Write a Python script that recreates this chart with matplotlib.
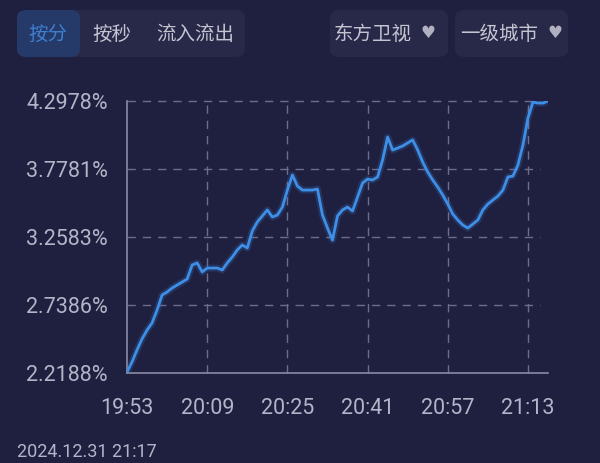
import matplotlib
matplotlib.use("Agg")
import matplotlib.pyplot as plt
from matplotlib.patches import FancyBboxPatch

plt.rcParams['font.family'] = ['Roboto', 'Noto Sans CJK SC', 'DejaVu Sans']

# ---- data ----
start_minute = 19 * 60 + 53
minutes = list(range(0, 85))
share = [2.226, 2.303, 2.395, 2.479, 2.547, 2.601, 2.700, 2.815, 2.838, 2.868,
         2.891, 2.914, 2.937, 3.044, 3.060, 2.991, 3.021, 3.021, 3.021, 3.006,
         3.060, 3.105, 3.159, 3.197, 3.174, 3.304, 3.373, 3.419, 3.465, 3.411,
         3.426, 3.487, 3.617, 3.732, 3.648, 3.617, 3.617, 3.617, 3.625, 3.426,
         3.327, 3.235, 3.419, 3.465, 3.487, 3.457, 3.564, 3.671, 3.701, 3.694,
         3.717, 3.847, 4.022, 3.923, 3.938, 3.954, 3.977, 4.000, 3.923, 3.831,
         3.755, 3.694, 3.640, 3.579, 3.510, 3.434, 3.388, 3.350, 3.327, 3.357,
         3.388, 3.465, 3.510, 3.541, 3.571, 3.617, 3.717, 3.724, 3.808, 3.961,
         4.168, 4.290, 4.282, 4.282, 4.298]
y_ticks = [2.2188, 2.7386, 3.2583, 3.7781, 4.2978]
x_tick_minutes = [0, 16, 32, 48, 64, 80]
x_tick_labels = ["19:53", "20:09", "20:25", "20:41", "20:57", "21:13"]
tabs = ["按分", "按秒", "流入流出"]
dropdowns = ["东方卫视", "一级城市"]
timestamp = "2024.12.31 21:17"

# ---- figure ----
W, H = 600, 463
BG = "#1f2040"
fig = plt.figure(figsize=(W / 100, H / 100), dpi=100, facecolor=BG)

def fx(px):
    return px / W

def fy(py):
    return 1 - py / H

ax = fig.add_axes([fx(127), fy(373), fx(548) - fx(127), (373 - 101) / H])
ax.set_facecolor(BG)

ax.plot(minutes, share, color="#3d8fe8", lw=5, alpha=0.18, solid_capstyle="round",
        solid_joinstyle="round", zorder=3)
ax.plot(minutes, share, color="#3d8fe8", lw=2.0, solid_joinstyle="round", zorder=4)

ax.set_xlim(0, 84)
ax.set_ylim(y_ticks[0], y_ticks[-1])
ax.set_yticks(y_ticks)
ax.set_yticklabels([f"{v:.4f}%" for v in y_ticks])
ax.set_xticks(x_tick_minutes)
ax.set_xticklabels(x_tick_labels)

grid_col = "#6c6c8e"
for v in y_ticks[1:]:
    ax.plot([0, 82.5], [v, v], color=grid_col, lw=1, dashes=(6, 5), zorder=1, clip_on=False)
for m in x_tick_minutes[1:]:
    ax.axvline(m, color=grid_col, lw=1, dashes=(6, 5), zorder=1)

for s in ["top", "right"]:
    ax.spines[s].set_visible(False)
for s in ["left", "bottom"]:
    ax.spines[s].set_color("#8a8aa6")
    ax.spines[s].set_linewidth(1.2)

ax.tick_params(axis="both", length=0, colors="#b4b4c8", labelsize=15.5)
ax.tick_params(axis="y", pad=14)
ax.tick_params(axis="x", pad=18)

# ---- top controls ----
def box(x0, y0, x1, y1, color, r=10):
    p = FancyBboxPatch((fx(x0), fy(y1)), fx(x1) - fx(x0), fy(y0) - fy(y1),
                       boxstyle=f"round,pad=0,rounding_size={r / W}",
                       transform=fig.transFigure, facecolor=color, edgecolor="none")
    fig.patches.append(p)

box(17, 10, 245, 57, "#282948")
box(17, 10, 80, 57, "#253a68")
tab_x = [48, 112, 195]
for i, (t, xx) in enumerate(zip(tabs, tab_x)):
    fig.text(fx(xx), fy(35), t, ha="center", va="center", fontsize=14,
             color="#3f7fd0" if i == 0 else "#c4c4d2")

box(330, 10, 448, 57, "#282948")
box(455, 10, 568, 57, "#282948")
for t, xx, hx in zip(dropdowns, [373, 499], [428, 555]):
    fig.text(fx(xx), fy(35), t, ha="center", va="center", fontsize=14, color="#c4c4d2")
    fig.text(fx(hx), fy(33), "♥", ha="center", va="center", fontsize=12,
             color="#b0b0c0", family="DejaVu Sans")

fig.text(fx(17), fy(461), timestamp, ha="left", va="bottom", fontsize=13, color="#b4b4c8")

fig.savefig("out.png", dpi=100, facecolor=BG)
